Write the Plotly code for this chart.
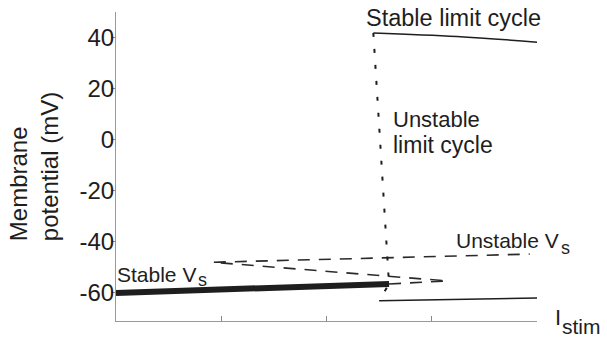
import plotly.graph_objects as go

# ---- data ----
stable_vs_x = [0.0, 2.594]
stable_vs_y = [-60.0, -56.5]

unstable_vs_x = [2.594, 3.145, 0.92, 3.93]
unstable_vs_y = [-56.5, -55.3, -48.0, -44.8]

stable_lc_max_x = [2.445, 3.24, 4.0]
stable_lc_max_y = [41.8, 40.4, 38.2]

stable_lc_min_x = [2.50, 4.0]
stable_lc_min_y = [-63.1, -62.0]

unstable_lc_x = [2.445, 2.594, 2.50]
unstable_lc_y = [41.8, -56.5, -63.1]

y_tick_vals = [-60, -40, -20, 0, 20, 40]
y_tick_text = ["-60", "-40", "-20", "0", "20", "40"]
x_tick_vals = [0, 1, 2, 3, 4]

# ---- layout geometry ----
W, H = 607, 340
L, R, T, B = 116, 70, 12, 19
PW, PH = W - L - R, H - T - B

FONT = "Liberation Sans, Arial, sans-serif"
INK = "#1e1e1e"


def px_x(px):
    return (px - L) / PW


def px_y(py):
    return (H - B - py) / PH


fig = go.Figure()

fig.add_trace(go.Scatter(x=stable_vs_x, y=stable_vs_y, mode="lines",
                         line=dict(color=INK, width=6), hoverinfo="skip"))
fig.add_trace(go.Scatter(x=unstable_vs_x, y=unstable_vs_y, mode="lines",
                         line=dict(color="#2a2a2a", width=1.6, dash="12px,9px"),
                         hoverinfo="skip"))
fig.add_trace(go.Scatter(x=stable_lc_max_x, y=stable_lc_max_y, mode="lines",
                         line=dict(color=INK, width=1.5, shape="spline"),
                         hoverinfo="skip"))
fig.add_trace(go.Scatter(x=stable_lc_min_x, y=stable_lc_min_y, mode="lines",
                         line=dict(color=INK, width=1.5), hoverinfo="skip"))
fig.add_trace(go.Scatter(x=unstable_lc_x, y=unstable_lc_y, mode="lines",
                         line=dict(color=INK, width=2, dash="4px,12px"),
                         hoverinfo="skip"))


def label(text, left_px, base_px, size):
    fig.add_annotation(text=text, xref="paper", yref="paper",
                       x=px_x(left_px), y=px_y(base_px - 0.3465 * size),
                       xanchor="left", yanchor="middle", showarrow=False,
                       borderpad=0,
                       font=dict(family=FONT, size=size, color=INK))


label("Stable limit cycle", 365, 25.7, 23.5)
label("Unstable", 392, 127.3, 22)
label("limit cycle", 392, 153.3, 23)
label("Unstable V", 455, 248, 21)
label("s", 559.5, 254.5, 18)
label("Stable V", 116, 281.7, 21)
label("s", 196.5, 286.5, 18)
label("I", 554, 325, 22)
label("stim", 561, 333.5, 21)

# y-axis title (two rotated lines, both starting at the same bottom point)
for txt, cx in (("Membrane", 18.7), ("potential (mV)", 49.7)):
    fig.add_annotation(text=txt, xref="paper", yref="paper",
                       x=px_x(cx), y=px_y(242), xanchor="center", yanchor="bottom",
                       textangle=-90, showarrow=False, borderpad=0,
                       font=dict(family=FONT, size=24, color=INK))

fig.update_layout(
    width=W, height=H,
    margin=dict(l=L, r=R, t=T, b=B),
    paper_bgcolor="white", plot_bgcolor="white",
    showlegend=False,
    font=dict(family=FONT, color=INK),
    xaxis=dict(range=[0, 4], tickvals=x_tick_vals, ticktext=[""] * 5,
               ticks="inside", ticklen=5, tickcolor="#888888", tickwidth=1,
               showline=True, linecolor="#999999", linewidth=1,
               showgrid=False, zeroline=False, fixedrange=True),
    yaxis=dict(range=[-71, 50], tickvals=y_tick_vals, ticktext=y_tick_text,
               ticks="outside", ticklen=4, tickcolor="#888888", tickwidth=1,
               tickfont=dict(family=FONT, size=24, color=INK),
               ticklabelstandoff=-8,
               showline=True, linecolor="#999999", linewidth=1,
               showgrid=False, zeroline=False, fixedrange=True),
)

fig.write_html("out.html", config={"displayModeBar": False},
               post_script="document.body.style.margin='0';"
                           "document.body.style.padding='0';")
